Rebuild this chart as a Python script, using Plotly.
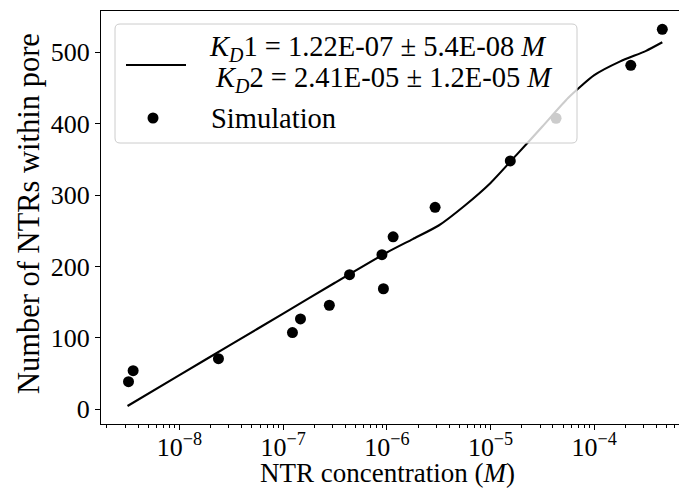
import plotly.graph_objects as go

# Simulation data
conc = [3.23e-9, 3.58e-9, 2.38e-8, 1.23e-7, 1.47e-7, 2.79e-7, 4.37e-7, 8.97e-7,
        9.27e-7, 1.15e-6, 2.92e-6, 1.55e-5, 4.28e-5, 2.25e-4, 4.53e-4]
count = [38.7, 54.1, 70.9, 107.4, 126.5, 145.7, 188.5, 216.5,
         168.8, 241.6, 282.9, 347.8, 407.6, 481.8, 532.2]

# Fitted curve
fit_conc = [3.16e-9, 1e-8, 3.16e-8, 1e-7, 3.16e-7, 1e-6, 1.78e-6, 3.16e-6, 5.62e-6,
            1e-5, 1.78e-5, 3.16e-5, 5.62e-5, 1e-4, 1.78e-4, 3.16e-4, 4.53e-4]
fit_count = [4.6, 47.8, 90.9, 134.0, 177.2, 219.6, 238.4, 257.4, 285.1,
             317.0, 356.3, 396.0, 436.4, 468.0, 487.3, 502.0, 514.0]

xtick_vals = [1e-8, 1e-7, 1e-6, 1e-5, 1e-4]
xtick_text = ["10<sup>\u22128</sup>", "10<sup>\u22127</sup>", "10<sup>\u22126</sup>",
              "10<sup>\u22125</sup>", "10<sup>\u22124</sup>"]
ytick_vals = [0, 100, 200, 300, 400, 500]

legend_fit = ["<i>K</i><sub><i>D</i></sub>1 = 1.22E-07 \u00b1 5.4E-08 <i>M</i>",
              "<i>K</i><sub><i>D</i></sub>2 = 2.41E-05 \u00b1 1.2E-05 <i>M</i>"]
legend_sim = "Simulation"
xlabel = "NTR concentration (<i>M</i>)"
ylabel = "Number of NTRs within pore"

FONT = "Liberation Serif, Times New Roman, Times, serif"
W, H = 679, 497
L, R, T, B = 101, 0, 11, 73
FS_TICK = 26
FS_XLAB = 27
FS_YLAB = 30.5
FS_LEG = 28.5

minor_vals = [k * 10.0 ** e for e in range(-9, -3) for k in range(2, 10)]

fig = go.Figure()
fig.add_trace(go.Scatter(x=fit_conc, y=fit_count, mode="lines",
                         line=dict(color="black", width=2.1, shape="spline", smoothing=0.6),
                         showlegend=False))
fig.add_trace(go.Scatter(x=conc, y=count, mode="markers",
                         marker=dict(color="black", size=11),
                         showlegend=False))

pw = W - L - R
ph = H - T - B


def px(xp):
    return (xp - L) / pw


def py(yp):
    return (H - B - yp) / ph


# legend box (rounded)
x0, x1, y0, y1 = px(115), px(577), py(24), py(143)
r = 5
rx, ry = r / pw, r / ph
path = (f"M {x0+rx},{y0} L {x1-rx},{y0} Q {x1},{y0} {x1},{y0-ry} "
        f"L {x1},{y1+ry} Q {x1},{y1} {x1-rx},{y1} L {x0+rx},{y1} "
        f"Q {x0},{y1} {x0},{y1+ry} L {x0},{y0-ry} Q {x0},{y0} {x0+rx},{y0} Z")
shapes = [
    dict(type="path", xref="paper", yref="paper", path=path,
         fillcolor="rgba(255,255,255,0.8)", line=dict(color="#cccccc", width=1), layer="above"),
    dict(type="line", xref="paper", yref="paper", x0=px(126), x1=px(186), y0=py(65), y1=py(65),
         line=dict(color="black", width=2.1), layer="above"),
    dict(type="circle", xref="paper", yref="paper", x0=px(153 - 5.5), x1=px(153 + 5.5),
         y0=py(118 - 5.5), y1=py(118 + 5.5), fillcolor="black", line=dict(width=0), layer="above"),
]

lf = dict(family=FONT, size=FS_LEG, color="black")
annotations = [
    dict(x=px(378), y=py(49), xref="paper", yref="paper", text=legend_fit[0], showarrow=False,
         xanchor="center", yanchor="middle", font=lf),
    dict(x=px(384), y=py(80), xref="paper", yref="paper", text=legend_fit[1], showarrow=False,
         xanchor="center", yanchor="middle", font=lf),
    dict(x=px(209), y=py(118), xref="paper", yref="paper", text=legend_sim, showarrow=False,
         xanchor="left", yanchor="middle", font=lf),
    dict(x=px(387), y=py(473), xref="paper", yref="paper", text=xlabel, showarrow=False,
         xanchor="center", yanchor="middle", font=dict(family=FONT, size=FS_XLAB, color="black")),
    dict(x=px(29), y=py(214), xref="paper", yref="paper", text=ylabel, showarrow=False,
         xanchor="center", yanchor="middle", textangle=-90,
         font=dict(family=FONT, size=FS_YLAB, color="black")),
]

fig.update_layout(
    width=W, height=H,
    margin=dict(l=L, r=R, t=T, b=B, pad=0),
    plot_bgcolor="white", paper_bgcolor="white",
    font=dict(family=FONT, size=FS_TICK, color="black"),
    shapes=shapes, annotations=annotations,
    showlegend=False,
)
fig.update_xaxes(type="log", range=[-8.756, -3.183], automargin=False,
                 tickvals=xtick_vals, ticktext=xtick_text, ticklabelstandoff=-5,
                 ticks="outside", ticklen=5, tickwidth=1.1, tickcolor="black",
                 showline=True, linecolor="black", linewidth=1.1, mirror=True,
                 showgrid=False, zeroline=False,
                 minor=dict(tickvals=minor_vals, ticks="outside", ticklen=3, tickwidth=0.8,
                            tickcolor="black", showgrid=False),
                 tickfont=dict(family=FONT, size=FS_TICK))
fig.update_yaxes(range=[-20.6, 557.8], tickvals=ytick_vals, automargin=False,
                 ticks="outside", ticklen=5, tickwidth=1.1, tickcolor="black",
                 showline=True, linecolor="black", linewidth=1.1, mirror=False,
                 showgrid=False, zeroline=False,
                 tickfont=dict(family=FONT, size=FS_TICK))

fig.write_html("out.html", config={"displayModeBar": False},
               post_script="document.body.style.margin='0px';document.body.style.overflow='hidden';")
